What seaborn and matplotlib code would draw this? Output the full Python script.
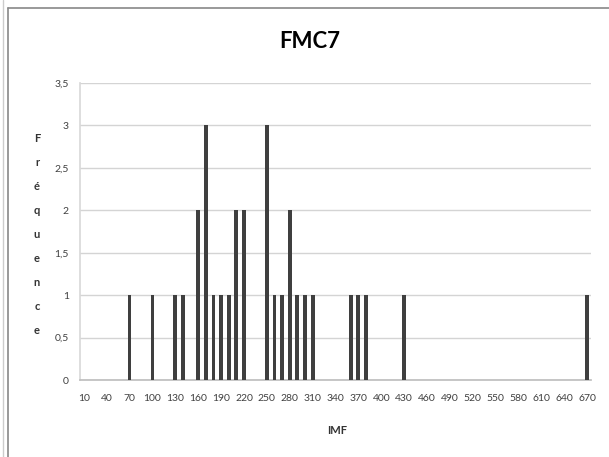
import matplotlib
matplotlib.use("Agg")
import matplotlib.pyplot as plt
import seaborn as sns
import pandas as pd
from matplotlib.lines import Line2D

title = "FMC7"
x_label = "IMF"
y_label = "Fréquence"
bins = list(range(10, 680, 10))
imf_values = [70, 100, 130, 140, 160, 170, 180, 190, 200, 210, 220,
              250, 260, 270, 280, 290, 300, 310, 360, 370, 380, 430, 670]
frequencies = [1, 1, 1, 1, 2, 3, 1, 1, 1, 2, 2,
               3, 1, 1, 2, 1, 1, 1, 1, 1, 1, 1, 1]
y_ticks = [0, 0.5, 1, 1.5, 2, 2.5, 3, 3.5]
y_tick_labels = ["0", "0,5", "1", "1,5", "2", "2,5", "3", "3,5"]

freq_map = dict(zip(imf_values, frequencies))
cats = [str(b) for b in bins]
df = pd.DataFrame({"IMF": cats, "Freq": [freq_map.get(b, 0) for b in bins]})

sns.set_theme(style="white")
plt.rcParams["font.family"] = ["Lato", "DejaVu Sans"]

W, H = 609, 457
fig = plt.figure(figsize=(W / 100, H / 100), dpi=100)
ax = fig.add_axes([80 / W, 1 - 380 / H, (591 - 80) / W, (380 - 83) / H])

sns.barplot(data=df, x="IMF", y="Freq", order=cats, color="#3f3f3f",
            width=0.5, saturation=1, linewidth=0, ax=ax, zorder=3)

ax.set_xlim(-0.5, len(cats) - 0.5)
ax.set_ylim(0, 3.5)
ax.set_yticks(y_ticks)
ax.set_yticklabels(y_tick_labels, fontsize=7.5, color="#404040")
ax.set_xticks(list(range(0, len(cats), 3)))
ax.set_xticklabels(cats[::3], fontsize=7.5, color="#404040")
ax.tick_params(axis="x", length=0, pad=10)
ax.tick_params(axis="y", length=0, pad=8)
ax.yaxis.grid(True, color="#d4d4d4", lw=1)
ax.set_axisbelow(True)
ax.set_xlabel("")
ax.set_ylabel("")
for s in ["top", "right"]:
    ax.spines[s].set_visible(False)
ax.spines["left"].set_color("#d9d9d9")
ax.spines["bottom"].set_color("#bfbfbf")

fig.text(310 / W, 1 - 42 / H, title, ha="center", va="center",
         fontsize=16, fontweight="bold", color="black")
fig.text(337 / W, 1 - 431 / H, x_label, ha="center", va="center",
         fontsize=8, fontweight="bold", color="#333333")
fig.text(37 / W, 1 - 234.5 / H, "\n".join(list(y_label)), ha="center", va="center",
         fontsize=8, fontweight="bold", color="#333333", linespacing=2.45)

fig.add_artist(Line2D([8 / W, 8 / W], [0, 1 - 8 / H], color="#888888", lw=1.2))
fig.add_artist(Line2D([8 / W, 1], [1 - 8 / H, 1 - 8 / H], color="#888888", lw=1.2))
fig.add_artist(Line2D([3 / W, 3 / W], [0, 1], color="#cccccc", lw=1))

fig.savefig("out.png", dpi=100)
